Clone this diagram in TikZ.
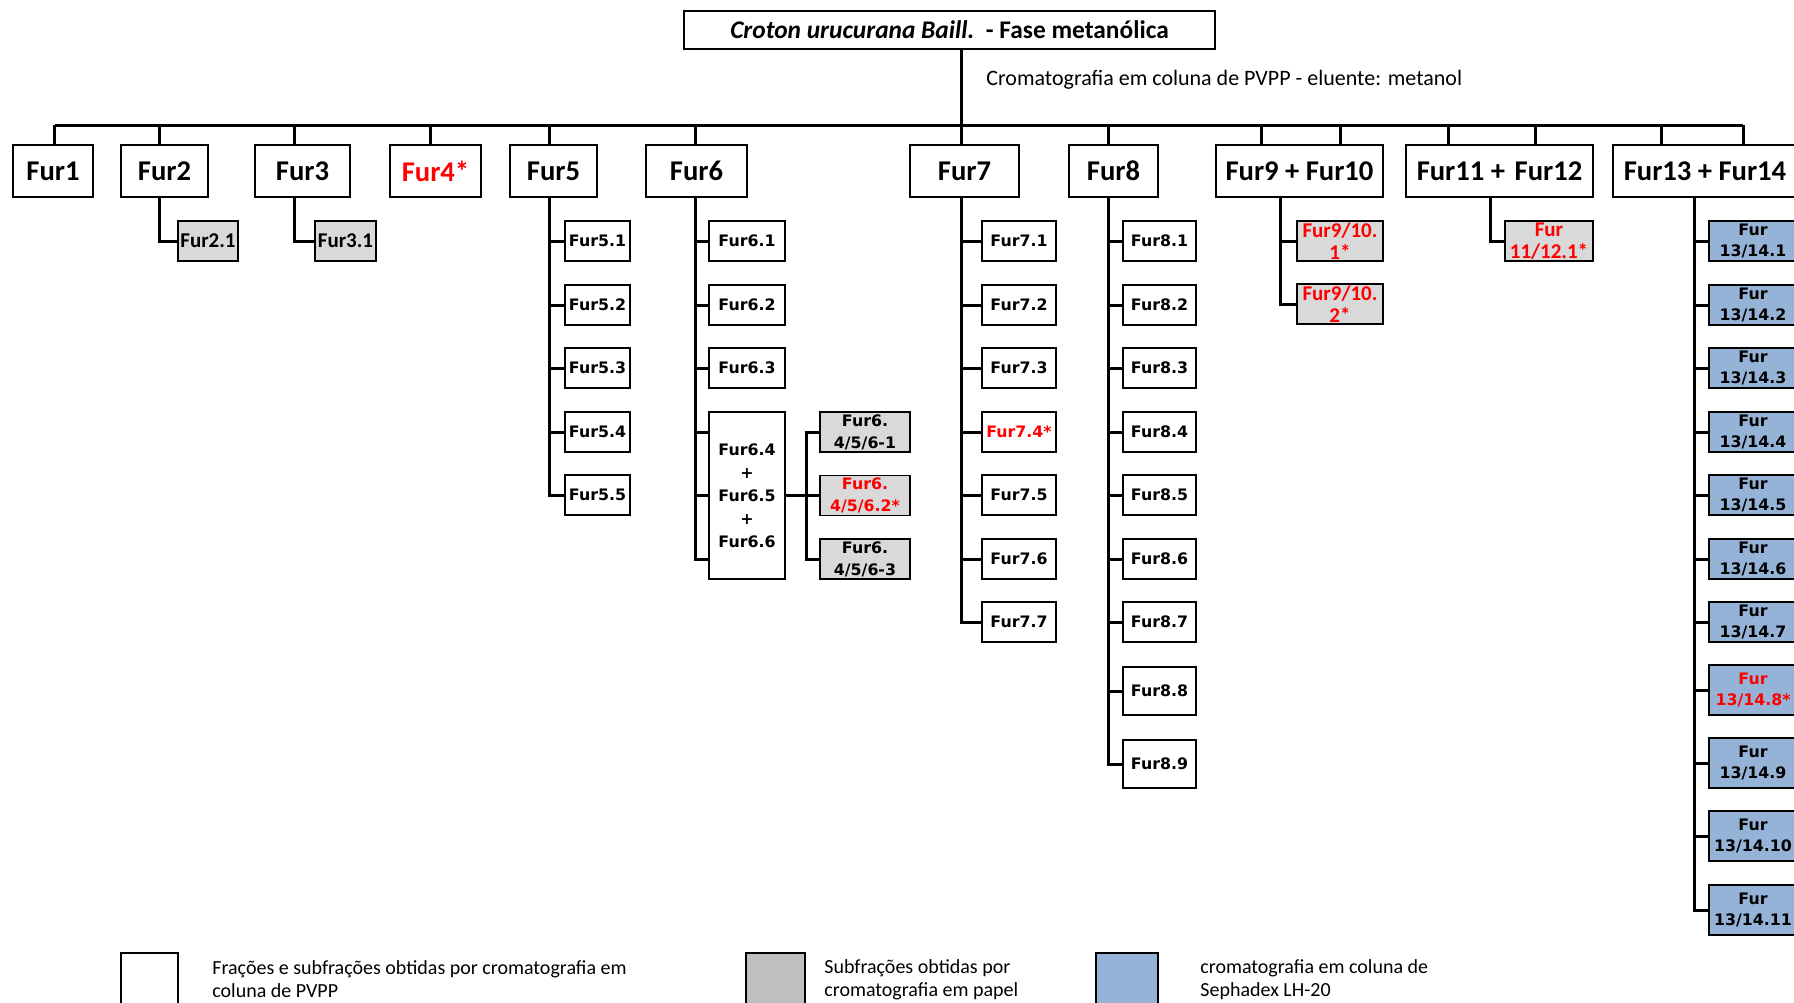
\documentclass[tikz,border=0pt]{standalone}
\usepackage{fontspec}
\setmainfont{Carlito}
\newfontfamily\verd{DejaVu Sans}
\usetikzlibrary{calc}
\definecolor{redt}{HTML}{FF0000}
\definecolor{nodegray}{HTML}{D9D9D9}
\definecolor{leggray}{HTML}{BFBFBF}
\definecolor{sephblue}{HTML}{95B3D7}
\tikzset{
  wh/.style 2 args={minimum width=#1*0.5pt, minimum height=#2*0.5pt},
  box/.style={draw, line width=0.8pt, inner sep=0pt, align=center, fill=white},
  topbox/.style={box, font=\fontsize{14.3}{16}\selectfont\bfseries},
  subv/.style={box, font=\verd\fontsize{7.9}{10.5}\selectfont\bfseries},
  subc/.style={box, font=\fontsize{10.5}{11.2}\selectfont\bfseries},
  paper/.style={fill=nodegray},
  seph/.style={fill=sephblue},
  hl/.style={text=redt},
  conn/.style={line width=1.5pt, line join=miter},
  legbox/.style={draw, line width=0.8pt, inner sep=0pt},
  legtext/.style={font=\fontsize{10}{11.5}\selectfont, align=left, anchor=west, inner sep=0pt},
}
\begin{document}
\begin{tikzpicture}[x=0.5pt, y=-0.5pt]
\useasboundingbox (0,0) rectangle (1794,1002);

% title and label
\node[box, wh={531}{38}, font=\fontsize{12.7}{14}\selectfont\bfseries] (title) at (949.5,30)
  {\textit{Croton urucurana Baill.}\ \ - Fase metanólica};
\node[anchor=west, inner sep=0pt, font=\fontsize{11}{13}\selectfont] (lbl) at (986,80)
  {Cromatografia em coluna de PVPP - eluente: metanol};

% bar coordinates
\coordinate (bL) at (54.5,125);
\coordinate (bR) at (1743,125);
\coordinate (d1) at (54.5,125);
\coordinate (d2) at (159,125);
\coordinate (d3) at (294.5,125);
\coordinate (d4) at (430.5,125);
\coordinate (d5) at (549,125);
\coordinate (d6) at (695,125);
\coordinate (d7) at (961,125);
\coordinate (d8) at (1108,125);
\coordinate (d9) at (1261,125);
\coordinate (d10) at (1340,125);
\coordinate (d11) at (1448,125);
\coordinate (d12) at (1535,125);
\coordinate (d13) at (1661,125);
\coordinate (d14) at (1743,125);
\coordinate (v9) at (1280,125);
\coordinate (v11) at (1490,125);
\coordinate (v13) at (1694,125);
\coordinate (j6) at (806,495.5);

% top level nodes
\node[topbox, wh={80}{52}] (f1) at (53,171) {Fur1};
\node[topbox, wh={87}{52}] (f2) at (164.5,171) {Fur2};
\node[topbox, wh={95}{52}] (f3) at (302.5,171) {Fur3};
\node[topbox, hl, wh={91}{52}] (f4) at (435.5,171) {Fur4*};
\node[topbox, wh={87}{52}] (f5) at (553.5,171) {Fur5};
\node[topbox, wh={101}{52}] (f6) at (696.5,171) {Fur6};
\node[topbox, wh={109}{52}] (f7) at (964.5,171) {Fur7};
\node[topbox, wh={89}{52}] (f8) at (1113.5,171) {Fur8};
\node[topbox, wh={167}{52}] (f910) at (1299.5,171) {Fur9 + Fur10};
\node[topbox, wh={187}{52}] (f1112) at (1499.5,171) {Fur11 +\,\,Fur12};
\node[topbox, wh={184}{52}] (f1314) at (1705,171) {Fur13 + Fur14};

% bar and drops
\draw[conn] (d7 |- title.south) -- (d7);
\draw[conn] (bL) -- (bR);
\foreach \d/\n in {d1/f1,d2/f2,d3/f3,d4/f4,d5/f5,d6/f6,d7/f7,d8/f8,d9/f910,d10/f910,d11/f1112,d12/f1112,d13/f1314,d14/f1314}
  \draw[conn] (\d) -- (\d |- \n.north);

% Fur2, Fur3
\node[subc, paper, wh={60}{40}] (f2-1) at (208,241) {Fur2.1};
\node[subc, paper, wh={61}{40}] (f3-1) at (345.5,241) {Fur3.1};
\draw[conn] (d2 |- f2.south) |- (f2-1.west);
\draw[conn] (d3 |- f3.south) |- (f3-1.west);

% Fur5
\draw[conn] (d5 |- f5.south) |- (597.5,495);
\foreach \i/\y in {1/241,2/305,3/368,4/432,5/495} {
  \node[subv, wh={65}{40}] (f5-\i) at (597.5,\y) {Fur5.\i};
  \draw[conn] (d5 |- f5-\i.west) -- (f5-\i.west);
}

% Fur6
\node[subv, wh={76}{167}, font=\verd\fontsize{7.9}{11.5}\selectfont\bfseries] (f6big) at (747,495.5)
  {Fur6.4\\+\\Fur6.5\\+\\Fur6.6};
\coordinate (f6a) at ($(f6big.west)+(0,-63.5)$);
\coordinate (f6c) at ($(f6big.west)+(0,63.5)$);
\draw[conn] (d6 |- f6.south) |- (f6c);
\draw[conn] (d6 |- f6a) -- (f6a);
\draw[conn] (d6 |- f6big.west) -- (f6big.west);
\foreach \i/\y in {1/241,2/305,3/368} {
  \node[subv, wh={76}{40}] (f6-\i) at (747,\y) {Fur6.\i};
  \draw[conn] (d6 |- f6-\i.west) -- (f6-\i.west);
}
\node[subv, paper, wh={90}{40}, font=\verd\fontsize{7.9}{11}\selectfont\bfseries] (g61) at (865,432) {Fur6.\\4/5/6-1};
\node[subv, paper, hl, wh={90}{40}, font=\verd\fontsize{7.9}{11}\selectfont\bfseries] (g62) at (865,495.5) {Fur6.\\4/5/6.2*};
\node[subv, paper, wh={90}{40}, font=\verd\fontsize{7.9}{11}\selectfont\bfseries] (g63) at (865,559) {Fur6.\\4/5/6-3};
\draw[conn] (g61.west) -| (j6) |- (g63.west);
\draw[conn] (f6big.east) -- (g62.west);

% Fur7
\draw[conn] (d7 |- f7.south) |- (1019,622);
\foreach \i/\y/\s in {1/241/,2/305/,3/368/,4/432/hl,5/495/,6/559/,7/622/} {
  \node[subv, \s, wh={74}{40}] (f7-\i) at (1019,\y) {Fur7.\i\ifnum\i=4 *\fi};
  \draw[conn] (d7 |- f7-\i.west) -- (f7-\i.west);
}

% Fur8
\draw[conn] (d8 |- f8.south) |- (1159.5,764);
\foreach \i/\y/\h in {1/241/40,2/305/40,3/368/40,4/432/40,5/495/40,6/559/40,7/622/40,8/691/48,9/764/48} {
  \node[subv, wh={73}{\h}] (f8-\i) at (1159.5,\y) {Fur8.\i};
  \draw[conn] (d8 |- f8-\i.west) -- (f8-\i.west);
}

% Fur9 + Fur10
\node[subc, paper, hl, wh={86}{40}] (f910-1) at (1340,241) {Fur9/10.\\1*};
\node[subc, paper, hl, wh={86}{40}] (f910-2) at (1340,304) {Fur9/10.\\2*};
\draw[conn] (v9 |- f910.south) |- (f910-2.west);
\draw[conn] (v9 |- f910-1.west) -- (f910-1.west);

% Fur11 + Fur12
\node[subc, paper, hl, wh={88}{40}] (f1112-1) at (1549,241) {Fur\\11/12.1*};
\draw[conn] (v11 |- f1112.south) |- (f1112-1.west);

% Fur13 + Fur14
\draw[conn] (v13 |- f1314.south) |- (1753,910);
\foreach \i/\y/\h/\s in {1/241/40/,2/305/40/,3/368/40/,4/432/40/,5/495/40/,6/559/40/,7/622/40/,8/690/50/hl,9/763/50/,10/836/50/,11/910/50/} {
  \node[subv, seph, \s, wh={88}{\h}] (f13-\i) at (1753,\y) {Fur\\13/14.\i\ifnum\i=8 *\fi};
  \draw[conn] (v13 |- f13-\i.west) -- (f13-\i.west);
}

% legend
\node[legbox, fill=white, wh={57}{52}] (lg1) at (149.5,979) {};
\node[legtext] (lt1) at (212,979.5) {Frações e subfrações obtidas por cromatografia em\\coluna de PVPP};
\node[legbox, fill=leggray, wh={59}{52}] (lg2) at (775.5,979) {};
\node[legtext] (lt2) at (824,979.5) {Subfrações obtidas por\\cromatografia em papel};
\node[legbox, fill=sephblue, wh={62}{52}] (lg3) at (1127,979) {};
\node[legtext] (lt3) at (1200,979.5) {cromatografia em coluna de\\Sephadex LH-20};
\end{tikzpicture}
\end{document}
